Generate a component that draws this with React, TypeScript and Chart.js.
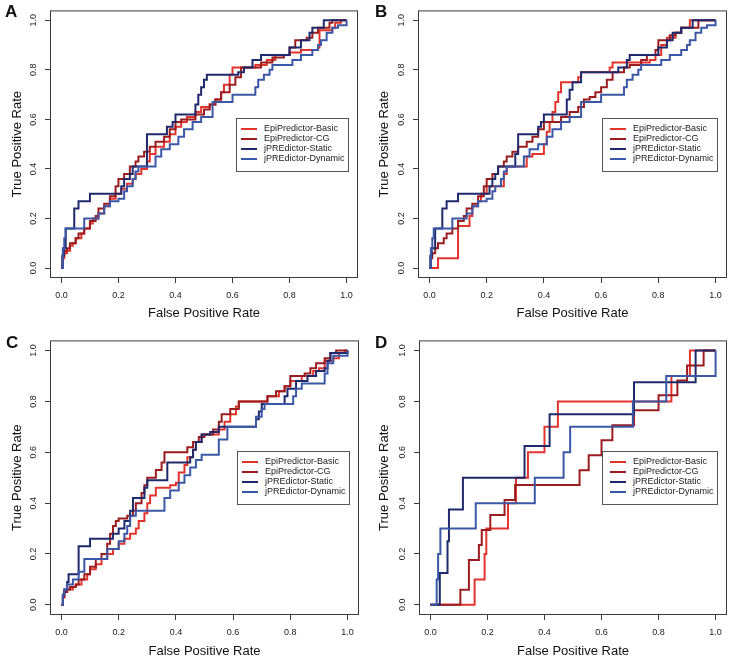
import { useEffect, useRef } from 'react';
import { Chart, registerables } from 'chart.js';
Chart.register(...registerables);

type P = [number, number];

const seriesNames = ['EpiPredictor-Basic', 'EpiPredictor-CG', 'jPREdictor-Static', 'jPREdictor-Dynamic'];
const seriesColors = ['#E2342D', '#9B1C1F', '#1F2A6C', '#3B58A6'];
const tickValues = [0, 0.2, 0.4, 0.6, 0.8, 1.0];
const panelLetters = ['A', 'B', 'C', 'D'];
const xTitle = 'False Positive Rate';
const yTitle = 'True Positive Rate';

// Each point: curve moves right to x, then rises to y (ROC staircase)
const aBasic: P[] = [[0,0],[0.005,0.04],[0.01,0.06],[0.02,0.07],[0.03,0.09],[0.04,0.1],[0.05,0.12],[0.07,0.14],[0.08,0.16],[0.1,0.18],[0.11,0.2],[0.13,0.22],[0.15,0.25],[0.17,0.28],[0.19,0.3],[0.21,0.32],[0.23,0.34],[0.25,0.36],[0.26,0.38],[0.28,0.4],[0.3,0.43],[0.31,0.46],[0.33,0.49],[0.36,0.51],[0.38,0.54],[0.4,0.57],[0.42,0.59],[0.44,0.61],[0.47,0.63],[0.49,0.65],[0.52,0.66],[0.54,0.68],[0.56,0.71],[0.57,0.74],[0.59,0.78],[0.6,0.81],[0.66,0.81],[0.68,0.82],[0.72,0.84],[0.75,0.86],[0.8,0.87],[0.84,0.88],[0.9,0.89],[0.905,0.96],[0.95,0.97],[0.96,0.99],[0.98,1.0],[1,1]];
const aCG: P[] = [[0,0],[0.005,0.05],[0.01,0.07],[0.02,0.08],[0.03,0.1],[0.05,0.12],[0.06,0.14],[0.08,0.16],[0.1,0.19],[0.12,0.21],[0.13,0.24],[0.15,0.26],[0.17,0.29],[0.19,0.33],[0.2,0.36],[0.22,0.38],[0.24,0.41],[0.26,0.43],[0.27,0.45],[0.29,0.47],[0.31,0.49],[0.33,0.51],[0.36,0.53],[0.38,0.56],[0.4,0.59],[0.42,0.6],[0.46,0.6],[0.47,0.62],[0.5,0.64],[0.52,0.66],[0.54,0.68],[0.56,0.71],[0.59,0.74],[0.61,0.77],[0.63,0.81],[0.68,0.81],[0.7,0.83],[0.74,0.85],[0.78,0.86],[0.8,0.89],[0.82,0.92],[0.86,0.93],[0.88,0.95],[0.9,0.97],[0.94,0.99],[0.95,1.0],[1,1]];
const aStatic: P[] = [[0,0],[0.003,0.05],[0.008,0.08],[0.015,0.16],[0.04,0.16],[0.045,0.24],[0.06,0.27],[0.1,0.3],[0.2,0.3],[0.21,0.33],[0.22,0.36],[0.24,0.38],[0.25,0.41],[0.3,0.41],[0.3,0.54],[0.365,0.54],[0.37,0.57],[0.39,0.59],[0.4,0.62],[0.47,0.62],[0.47,0.66],[0.48,0.7],[0.49,0.73],[0.5,0.76],[0.51,0.78],[0.6,0.78],[0.62,0.79],[0.64,0.81],[0.67,0.84],[0.7,0.86],[0.79,0.86],[0.8,0.89],[0.84,0.92],[0.87,0.95],[0.88,0.97],[0.92,0.97],[0.92,1.0],[1,1]];
const aDynamic: P[] = [[0,0],[0.005,0.08],[0.01,0.12],[0.015,0.16],[0.08,0.2],[0.13,0.22],[0.15,0.25],[0.17,0.27],[0.2,0.28],[0.22,0.31],[0.23,0.33],[0.25,0.36],[0.26,0.39],[0.27,0.41],[0.33,0.45],[0.35,0.48],[0.38,0.5],[0.41,0.53],[0.43,0.56],[0.46,0.59],[0.49,0.61],[0.53,0.63],[0.53,0.67],[0.6,0.7],[0.68,0.73],[0.69,0.76],[0.71,0.78],[0.73,0.8],[0.74,0.82],[0.81,0.84],[0.84,0.86],[0.88,0.88],[0.9,0.9],[0.91,0.92],[0.93,0.95],[0.95,0.97],[0.97,0.98],[1,0.985],[1,1]];

const bBasic: P[] = [[0,0],[0.03,0.04],[0.1,0.17],[0.14,0.21],[0.15,0.25],[0.17,0.27],[0.18,0.3],[0.2,0.33],[0.26,0.38],[0.27,0.41],[0.34,0.45],[0.36,0.46],[0.4,0.5],[0.41,0.55],[0.42,0.59],[0.43,0.63],[0.44,0.67],[0.45,0.71],[0.46,0.75],[0.52,0.77],[0.53,0.79],[0.63,0.81],[0.64,0.83],[0.77,0.84],[0.79,0.86],[0.81,0.9],[0.83,0.93],[0.86,0.95],[0.88,0.97],[0.91,1.0],[1,1]];
const bCG: P[] = [[0,0],[0.005,0.04],[0.01,0.06],[0.02,0.08],[0.03,0.1],[0.05,0.12],[0.06,0.14],[0.08,0.16],[0.1,0.19],[0.12,0.21],[0.13,0.24],[0.15,0.26],[0.17,0.29],[0.19,0.33],[0.2,0.36],[0.22,0.38],[0.24,0.41],[0.26,0.43],[0.27,0.45],[0.29,0.47],[0.31,0.49],[0.34,0.51],[0.36,0.53],[0.38,0.56],[0.4,0.59],[0.45,0.59],[0.46,0.61],[0.49,0.63],[0.52,0.65],[0.54,0.68],[0.56,0.69],[0.58,0.71],[0.6,0.73],[0.62,0.76],[0.64,0.79],[0.68,0.81],[0.7,0.82],[0.74,0.84],[0.76,0.86],[0.79,0.88],[0.8,0.92],[0.84,0.94],[0.86,0.95],[0.88,0.97],[0.92,0.97],[0.94,1.0],[1,1]];
const bStatic: P[] = [[0,0],[0.003,0.05],[0.008,0.08],[0.02,0.16],[0.04,0.16],[0.045,0.24],[0.06,0.27],[0.1,0.3],[0.2,0.3],[0.21,0.33],[0.22,0.36],[0.23,0.38],[0.24,0.41],[0.3,0.46],[0.31,0.54],[0.37,0.54],[0.38,0.57],[0.39,0.59],[0.4,0.62],[0.47,0.62],[0.48,0.68],[0.49,0.72],[0.5,0.75],[0.53,0.79],[0.65,0.79],[0.66,0.81],[0.69,0.84],[0.7,0.86],[0.79,0.86],[0.8,0.89],[0.83,0.92],[0.85,0.95],[0.88,0.97],[0.92,1.0],[1,1]];
const bDynamic: P[] = [[0,0],[0.005,0.08],[0.01,0.12],[0.015,0.16],[0.08,0.2],[0.13,0.22],[0.15,0.25],[0.17,0.27],[0.2,0.28],[0.22,0.31],[0.23,0.33],[0.25,0.36],[0.26,0.39],[0.27,0.41],[0.33,0.45],[0.35,0.48],[0.38,0.5],[0.41,0.53],[0.43,0.56],[0.46,0.59],[0.49,0.61],[0.53,0.63],[0.53,0.67],[0.6,0.7],[0.68,0.73],[0.69,0.76],[0.71,0.78],[0.73,0.8],[0.74,0.82],[0.81,0.84],[0.84,0.86],[0.88,0.88],[0.9,0.9],[0.91,0.92],[0.93,0.95],[0.95,0.97],[0.97,0.98],[1,0.985],[1,1]];

const cBasic: P[] = [[0,0],[0.005,0.03],[0.01,0.05],[0.02,0.06],[0.04,0.07],[0.05,0.08],[0.07,0.1],[0.09,0.12],[0.1,0.14],[0.12,0.16],[0.14,0.18],[0.16,0.2],[0.18,0.22],[0.2,0.24],[0.22,0.26],[0.24,0.28],[0.26,0.3],[0.27,0.33],[0.29,0.36],[0.3,0.4],[0.31,0.43],[0.33,0.46],[0.36,0.46],[0.38,0.47],[0.4,0.48],[0.41,0.52],[0.43,0.55],[0.44,0.58],[0.46,0.61],[0.47,0.64],[0.49,0.67],[0.52,0.67],[0.55,0.69],[0.57,0.72],[0.59,0.75],[0.61,0.78],[0.62,0.8],[0.7,0.8],[0.72,0.82],[0.76,0.84],[0.78,0.86],[0.8,0.88],[0.84,0.9],[0.88,0.92],[0.9,0.93],[0.92,0.96],[0.95,0.97],[0.97,0.99],[0.99,1.0],[1,1]];
const cCG: P[] = [[0,0],[0.005,0.03],[0.01,0.05],[0.02,0.06],[0.03,0.07],[0.05,0.08],[0.06,0.1],[0.08,0.12],[0.1,0.15],[0.12,0.18],[0.14,0.2],[0.16,0.24],[0.17,0.28],[0.18,0.31],[0.19,0.33],[0.2,0.34],[0.23,0.35],[0.25,0.37],[0.26,0.4],[0.28,0.44],[0.29,0.47],[0.3,0.5],[0.33,0.53],[0.35,0.56],[0.36,0.6],[0.43,0.6],[0.44,0.62],[0.46,0.64],[0.48,0.66],[0.5,0.67],[0.53,0.69],[0.55,0.72],[0.56,0.75],[0.59,0.77],[0.62,0.8],[0.7,0.8],[0.72,0.82],[0.75,0.84],[0.78,0.86],[0.8,0.9],[0.85,0.91],[0.87,0.93],[0.89,0.95],[0.92,0.97],[0.94,0.99],[0.96,1.0],[1,1]];
const cStatic: P[] = [[0,0],[0.005,0.04],[0.01,0.06],[0.02,0.09],[0.025,0.12],[0.06,0.12],[0.06,0.23],[0.09,0.23],[0.1,0.26],[0.17,0.26],[0.18,0.28],[0.2,0.3],[0.22,0.33],[0.24,0.37],[0.25,0.42],[0.28,0.42],[0.29,0.46],[0.3,0.49],[0.36,0.49],[0.37,0.56],[0.44,0.56],[0.45,0.58],[0.46,0.61],[0.47,0.64],[0.49,0.67],[0.52,0.68],[0.55,0.7],[0.67,0.7],[0.68,0.73],[0.69,0.76],[0.7,0.79],[0.77,0.79],[0.78,0.82],[0.79,0.85],[0.82,0.88],[0.86,0.9],[0.89,0.92],[0.92,0.93],[0.93,0.96],[0.94,0.99],[0.98,0.99],[1,1]];
const cDynamic: P[] = [[0,0],[0.005,0.04],[0.01,0.06],[0.02,0.08],[0.04,0.1],[0.06,0.13],[0.08,0.18],[0.15,0.18],[0.16,0.22],[0.2,0.25],[0.22,0.28],[0.23,0.31],[0.24,0.35],[0.26,0.37],[0.35,0.37],[0.36,0.42],[0.38,0.45],[0.41,0.48],[0.43,0.51],[0.45,0.54],[0.47,0.57],[0.49,0.59],[0.55,0.59],[0.55,0.65],[0.58,0.7],[0.67,0.7],[0.68,0.74],[0.7,0.77],[0.71,0.79],[0.8,0.79],[0.81,0.82],[0.82,0.85],[0.84,0.87],[0.91,0.87],[0.92,0.91],[0.93,0.95],[0.95,0.98],[0.99,0.98],[1,1]];

const dBasic: P[] = [[0,0],[0.155,0.1],[0.19,0.2],[0.196,0.3],[0.272,0.4],[0.3,0.5],[0.342,0.6],[0.4,0.7],[0.447,0.8],[0.845,0.9],[0.91,1.0],[1,1]];
const dCG: P[] = [[0,0],[0.105,0.059],[0.135,0.176],[0.17,0.235],[0.18,0.294],[0.21,0.353],[0.26,0.412],[0.297,0.471],[0.523,0.529],[0.555,0.588],[0.6,0.647],[0.638,0.706],[0.714,0.765],[0.8,0.824],[0.866,0.882],[0.9,0.941],[0.958,1.0],[1,1]];
const dStatic: P[] = [[0,0],[0.022,0],[0.033,0.125],[0.06,0.25],[0.065,0.375],[0.114,0.5],[0.33,0.625],[0.418,0.75],[0.714,0.875],[0.93,1.0],[1,1]];
const dDynamic: P[] = [[0,0],[0.02,0],[0.022,0.1],[0.027,0.2],[0.035,0.3],[0.159,0.4],[0.366,0.5],[0.467,0.6],[0.49,0.7],[0.71,0.8],[0.827,0.9],[1,0.9],[1,1]];

const panelSeries: P[][][] = [
  [aBasic, aCG, aStatic, aDynamic],
  [bBasic, bCG, bStatic, bDynamic],
  [cBasic, cCG, cStatic, cDynamic],
  [dBasic, dCG, dStatic, dDynamic],
];

interface Box { x: number; y: number; w: number; h: number; left: number; right: number; top: number; bottom: number; xTitlePad: number; yTitlePad: number; letterX: number; letterY: number; legendW: number; }

const boxes: Box[] = [
  { x: 0, y: 0, w: 365, h: 330, left: 50, right: 358, top: 3, bottom: 278, xTitlePad: 9, yTitlePad: 10, letterX: 5, letterY: 17, legendW: 112 },
  { x: 365, y: 0, w: 365, h: 330, left: 53, right: 362, top: 3, bottom: 278, xTitlePad: 9, yTitlePad: 11.5, letterX: 10, letterY: 17, legendW: 115 },
  { x: 0, y: 330, w: 365, h: 329, left: 50, right: 359, top: 9, bottom: 285, xTitlePad: 0, yTitlePad: 10, letterX: 6, letterY: 18, legendW: 112 },
  { x: 365, y: 330, w: 365, h: 329, left: 54, right: 362, top: 9, bottom: 285, xTitlePad: 0, yTitlePad: 11.5, letterX: 10, letterY: 18, legendW: 115 },
];

const FONT = "'Liberation Sans', Arial, Helvetica, sans-serif";

function Panel({ index }: { index: number }) {
  const ref = useRef<HTMLCanvasElement>(null);
  const box = boxes[index];
  useEffect(() => {
    const series = panelSeries[index];
    const letter = panelLetters[index];
    const framePlugin = {
      id: 'frame' + index,
      afterDraw(chart: any) {
        const { ctx, chartArea: a, scales } = chart;
        ctx.save();
        ctx.strokeStyle = '#3c3c3c';
        ctx.lineWidth = 1;
        ctx.strokeRect(a.left + 0.5, a.top + 0.5, a.right - a.left - 1, a.bottom - a.top - 1);
        // legend
        const xs = scales.x, ys = scales.y;
        const lw = box.legendW, lh = 53;
        const right = Math.round(xs.getPixelForValue(1.0)) + 1;
        const cy = ys.getPixelForValue(0.5);
        const left = right - lw;
        const top = Math.round(cy - lh / 2);
        ctx.fillStyle = '#ffffff';
        ctx.fillRect(left, top, lw, lh);
        ctx.strokeStyle = '#555';
        ctx.lineWidth = 1;
        ctx.strokeRect(left + 0.5, top + 0.5, lw, lh);
        ctx.font = `9px ${FONT}`;
        ctx.textBaseline = 'middle';
        ctx.textAlign = 'left';
        const padL = lw - 107;
        chart.data.datasets.forEach((ds: any, i: number) => {
          const ry = top + 11 + i * 10;
          ctx.strokeStyle = ds.borderColor;
          ctx.lineWidth = 2;
          ctx.beginPath();
          ctx.moveTo(left + padL, ry);
          ctx.lineTo(left + padL + 16, ry);
          ctx.stroke();
          ctx.fillStyle = '#1a1a1a';
          ctx.fillText(ds.label, left + padL + 23, ry);
        });
        ctx.fillStyle = '#111';
        ctx.font = `bold 17px ${FONT}`;
        ctx.textBaseline = 'alphabetic';
        ctx.fillText(letter, box.letterX, box.letterY);
        ctx.restore();
      },
    };
    const grid = { display: true, drawOnChartArea: false, drawTicks: true, tickLength: 5, color: '#3c3c3c', lineWidth: 1 };
    const chart = new Chart(ref.current!, {
      type: 'line',
      data: {
        datasets: series.map((pts, i) => ({
          label: seriesNames[i],
          data: pts.map(([x, y]) => ({ x, y })),
          borderColor: seriesColors[i],
          backgroundColor: seriesColors[i],
          borderWidth: 2,
          pointRadius: 0,
          stepped: 'before' as const,
          fill: false,
          tension: 0,
          order: 4 - i,
        })),
      },
      options: {
        animation: false,
        responsive: false,
        maintainAspectRatio: false,
        layout: { padding: { left: 0, top: box.top, right: box.w - box.right, bottom: 0 } },
        plugins: { legend: { display: false }, tooltip: { enabled: false } },
        scales: {
          x: {
            type: 'linear', min: -0.04, max: 1.04,
            afterBuildTicks: (s: any) => { s.ticks = tickValues.map(v => ({ value: v })); },
            afterFit: (s: any) => { s.height = box.h - box.bottom; },
            grid, border: { display: false },
            ticks: { font: { family: FONT, size: 9 }, color: '#1a1a1a', padding: 7, maxRotation: 0, minRotation: 0, callback: (v: any) => Number(v).toFixed(1) },
            title: { display: true, text: xTitle, font: { family: FONT, size: 13 }, color: '#111', padding: { top: 0, bottom: box.xTitlePad } },
          },
          y: {
            type: 'linear', min: -0.04, max: 1.04,
            afterBuildTicks: (s: any) => { s.ticks = tickValues.map(v => ({ value: v })); },
            afterFit: (s: any) => { s.width = box.left; },
            grid, border: { display: false },
            ticks: { font: { family: FONT, size: 9 }, color: '#1a1a1a', padding: 5, minRotation: 90, maxRotation: 90, crossAlign: 'center', callback: (v: any) => Number(v).toFixed(1) },
            title: { display: true, text: yTitle, font: { family: FONT, size: 13 }, color: '#111', padding: { top: box.yTitlePad, bottom: 0 } },
          },
        },
      } as any,
      plugins: [framePlugin],
    });
    return () => chart.destroy();
  }, [index]);
  return (
    <canvas
      ref={ref}
      width={box.w}
      height={box.h}
      style={{ position: 'absolute', left: box.x, top: box.y, width: box.w, height: box.h }}
    />
  );
}

export default function App() {
  return (
    <div style={{ position: 'absolute', left: 0, top: 0, width: 730, height: 659, background: '#fff' }}>
      {panelLetters.map((_, i) => <Panel key={i} index={i} />)}
    </div>
  );
}
